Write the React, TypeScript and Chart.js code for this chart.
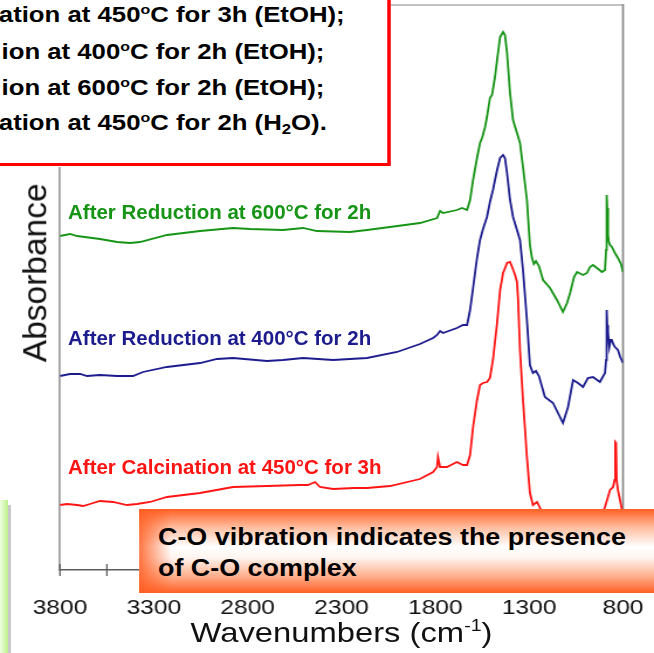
import React, { useEffect, useRef } from "react";
import { Chart, registerables } from "chart.js";

Chart.register(...registerables);

// ---------- data ----------
const xTickLabels = [3800, 3300, 2800, 2300, 1800, 1300, 800];

const seriesNames = [
  "After Calcination at 450°C for 3h",
  "After Reduction at 400°C for 2h",
  "After Reduction at 600°C for 2h",
];
const seriesColors = ["#ff1414", "#1c1c8e", "#159415"];

const greenWn = [3800, 3747, 3709, 3587, 3496, 3427, 3374, 3230, 3054, 2878, 2788, 2612, 2505, 2431, 2255, 2164, 2042, 1882, 1791, 1775, 1759, 1685, 1658, 1631, 1615, 1599, 1578, 1562, 1551, 1535, 1525, 1509, 1498, 1482, 1471, 1455, 1439, 1429, 1418, 1402, 1386, 1365, 1349, 1333, 1312, 1296, 1285, 1275, 1264, 1248, 1226, 1189, 1152, 1120, 1098, 1082, 1061, 1045, 1013, 992, 976, 960, 939, 912, 896, 890, 887, 884, 880, 875, 869, 859, 843, 827, 811, 800];
const greenAbs = [3.34, 3.36, 3.34, 3.31, 3.28, 3.27, 3.28, 3.35, 3.39, 3.42, 3.41, 3.40, 3.42, 3.39, 3.38, 3.40, 3.43, 3.47, 3.52, 3.59, 3.57, 3.60, 3.62, 3.60, 3.70, 3.90, 4.12, 4.27, 4.32, 4.43, 4.53, 4.72, 4.75, 4.93, 5.10, 5.33, 5.38, 5.35, 5.17, 4.77, 4.50, 4.37, 4.27, 4.03, 3.70, 3.25, 3.12, 3.06, 3.09, 3.04, 2.90, 2.82, 2.70, 2.58, 2.67, 2.77, 2.93, 2.98, 2.95, 2.97, 3.03, 3.05, 3.02, 2.98, 3.00, 3.20, 3.75, 3.62, 3.35, 3.28, 3.25, 3.23, 3.17, 3.12, 3.06, 2.98];

const blueWn = [3800, 3747, 3693, 3656, 3587, 3496, 3411, 3358, 3230, 3054, 2963, 2878, 2697, 2612, 2505, 2345, 2164, 2004, 1882, 1812, 1791, 1775, 1759, 1685, 1653, 1631, 1615, 1599, 1578, 1562, 1546, 1525, 1509, 1493, 1471, 1455, 1439, 1429, 1418, 1402, 1386, 1365, 1349, 1333, 1312, 1296, 1280, 1264, 1248, 1216, 1173, 1120, 1093, 1066, 1040, 1013, 987, 960, 923, 896, 890, 887, 884, 880, 873, 866, 860, 850, 843, 827, 815, 800];
const blueAbs = [1.94, 1.96, 1.96, 1.94, 1.95, 1.94, 1.94, 1.98, 2.03, 2.07, 2.11, 2.12, 2.09, 2.10, 2.12, 2.10, 2.12, 2.18, 2.26, 2.32, 2.35, 2.39, 2.37, 2.42, 2.45, 2.45, 2.60, 2.82, 3.12, 3.30, 3.41, 3.53, 3.68, 3.80, 4.00, 4.12, 4.15, 4.12, 3.97, 3.70, 3.53, 3.40, 3.30, 3.00, 2.50, 2.05, 1.97, 1.99, 1.94, 1.73, 1.67, 1.47, 1.63, 1.90, 1.87, 1.83, 1.92, 1.93, 1.88, 1.97, 2.10, 2.60, 2.45, 2.38, 2.23, 2.30, 2.30, 2.25, 2.23, 2.20, 2.13, 2.07];

const redWn = [3800, 3763, 3709, 3677, 3640, 3587, 3518, 3443, 3390, 3320, 3230, 3054, 2878, 2697, 2521, 2479, 2441, 2415, 2345, 2233, 2164, 2042, 1882, 1812, 1791, 1786, 1775, 1738, 1685, 1653, 1631, 1615, 1599, 1578, 1562, 1546, 1525, 1509, 1493, 1471, 1455, 1439, 1418, 1402, 1391, 1375, 1365, 1359, 1349, 1333, 1312, 1296, 1280, 1258, 1242, 1216, 1136, 1029, 923, 896, 869, 853, 845, 841, 837, 834, 827, 816, 805, 800];
const redAbs = [0.65, 0.66, 0.65, 0.64, 0.66, 0.69, 0.68, 0.65, 0.66, 0.68, 0.73, 0.77, 0.83, 0.84, 0.85, 0.85, 0.88, 0.83, 0.81, 0.82, 0.82, 0.84, 0.91, 0.98, 1.03, 1.13, 1.03, 1.03, 1.08, 1.05, 1.05, 1.15, 1.43, 1.70, 1.85, 1.87, 1.88, 1.92, 2.10, 2.47, 2.80, 2.97, 3.07, 3.08, 3.03, 2.95, 2.88, 2.70, 2.20, 1.70, 1.13, 0.77, 0.65, 0.68, 0.62, 0.50, 0.30, 0.35, 0.50, 0.63, 0.80, 0.83, 0.90, 1.28, 1.27, 0.90, 0.80, 0.70, 0.60, 0.55];

const legendLines = [
  { pre: "ation at 450", post: "C for 3h (EtOH);", sub: "" },
  { pre: "ion at 400", post: "C for 2h (EtOH);", sub: "" },
  { pre: "ion at 600", post: "C for 2h (EtOH);", sub: "" },
  { pre: "ation at 450", post: "C for 2h (H", sub: "2" },
];

const FONT = '"Liberation Sans", Arial, Helvetica, sans-serif';
const S = 654 / 559; // horizontal stretch of the original picture

export default function App() {
  const ref = useRef<HTMLCanvasElement | null>(null);

  useEffect(() => {
    document.body.style.margin = "0";
    const pts = (xs: number[], ys: number[]) => xs.map((x, i) => ({ x, y: ys[i] }));

    const framePlugin = {
      id: "frame",
      beforeDatasetsDraw(chart: any) {
        const { ctx, chartArea: a, scales } = chart;
        ctx.save();
        ctx.strokeStyle = "#c2c2c2";
        ctx.lineWidth = 2;
        ctx.beginPath();
        ctx.moveTo(a.left, a.top);
        ctx.lineTo(a.right, a.top);
        ctx.stroke();
        ctx.strokeStyle = "#8a8a8a";
        ctx.lineWidth = 1.7;
        ctx.beginPath();
        ctx.moveTo(a.right, a.top - 1);
        ctx.lineTo(a.right, a.bottom);
        ctx.stroke();
        const xs = scales.x;
        ctx.strokeStyle = "#5a5a5a";
        ctx.lineWidth = 1.3;
        xs.ticks.forEach((t: any) => {
          const px = xs.getPixelForValue(t.value);
          ctx.beginPath();
          ctx.moveTo(px, a.bottom - 6);
          ctx.lineTo(px, a.bottom + 6);
          ctx.stroke();
        });
        ctx.restore();
      },
    };

    const chart = new Chart(ref.current as HTMLCanvasElement, {
      type: "line",
      data: {
        datasets: [
          { label: seriesNames[0], data: pts(redWn, redAbs), borderColor: seriesColors[0] },
          { label: seriesNames[1], data: pts(blueWn, blueAbs), borderColor: seriesColors[1] },
          { label: seriesNames[2], data: pts(greenWn, greenAbs), borderColor: seriesColors[2] },
        ],
      },
      options: {
        animation: false,
        responsive: true,
        maintainAspectRatio: false,
        layout: { padding: { left: 60 / S, right: 559 - 623 / S, top: 5, bottom: 0 } },
        plugins: { legend: { display: false }, tooltip: { enabled: false } },
        elements: {
          point: { radius: 0 },
          line: { tension: 0, borderWidth: 1.8, fill: false },
        },
        scales: {
          x: {
            type: "linear",
            reverse: true,
            min: 800,
            max: 3800,
            afterFit: (s: any) => {
              s.height = 83;
            },
            grid: {
              display: true,
              drawOnChartArea: false,
              drawTicks: true,
              tickLength: 20,
              color: "rgba(0,0,0,0)",
              tickColor: "rgba(0,0,0,0)",
            },
            border: { display: true, color: "#5a5a5a", width: 1.5 },
            ticks: {
              stepSize: 250,
              autoSkip: false,
              maxRotation: 0,
              padding: 6,
              color: "#111",
              font: { family: FONT, size: 21 },
              callback: (v: any) => (xTickLabels.includes(Number(v)) ? String(v) : ""),
            },
          },
          y: {
            min: 0,
            max: 5.65,
            afterFit: (s: any) => {
              s.width = 0;
            },
            ticks: { display: false },
            grid: { display: false, drawTicks: false },
            border: { display: true, color: "#a0a0a0", width: 1.8 },
          },
        },
      } as any,
      plugins: [framePlugin],
    });
    return () => chart.destroy();
  }, []);

  const supO: React.CSSProperties = { fontSize: "0.62em", verticalAlign: "8.5px", lineHeight: 0 };
  const legendTops = [4.4, 40.9, 76.9, 112.4];
  const legendLefts = [-1, 1.3, 1.3, -1];

  const curveLabelTops = [456.6, 328.2, 201.6];

  return (
    <div
      style={{
        position: "absolute",
        left: 0,
        top: 0,
        width: 654,
        height: 653,
        overflow: "hidden",
        background: "#fff",
        fontFamily: FONT,
      }}
    >
      <div
        style={{
          position: "absolute",
          left: 0,
          top: 0,
          width: 559,
          height: 653,
          transform: `scaleX(${S})`,
          transformOrigin: "0 0",
        }}
      >
        <div style={{ position: "absolute", left: 0, top: 0, width: 559, height: 653 }}>
          <canvas ref={ref} />
        </div>

        {/* legend box */}
        <div
          style={{
            position: "absolute",
            left: -40,
            top: -30,
            width: 334 + 40,
            height: 165.7 + 30,
            border: "3.4px solid #ff0000",
            boxSizing: "border-box",
            background: "#fff",
          }}
        />
        {legendLines.map((l, i) => (
          <div
            key={i}
            style={{
              position: "absolute",
              left: legendLefts[i],
              top: legendTops[i],
              fontSize: 22,
              lineHeight: "22px",
              fontWeight: "bold",
              whiteSpace: "nowrap",
              color: "#000",
            }}
          >
            {l.pre}
            <sup style={supO}>o</sup>
            {l.post}
            {l.sub ? (
              <>
                <sub style={{ fontSize: "0.65em", verticalAlign: "-3.5px", lineHeight: 0 }}>{l.sub}</sub>
                {"O)."}
              </>
            ) : null}
          </div>
        ))}

        {/* C-O box */}
        <div
          style={{
            position: "absolute",
            left: 139 / S,
            top: 509,
            width: 460,
            height: 84,
            background:
              "linear-gradient(to right, rgba(255,95,35,0.85) 0%, rgba(255,95,35,0) 6%), linear-gradient(to bottom, rgb(255,95,35) 0%, rgb(255,190,160) 22%, #ffffff 45%, #fff4ef 58%, rgb(255,175,140) 80%, rgb(255,95,35) 100%)",
          }}
        />
        <div
          style={{
            position: "absolute",
            left: 135,
            top: 525.5,
            fontSize: 23,
            lineHeight: "23px",
            fontWeight: "bold",
            whiteSpace: "nowrap",
            color: "#000",
          }}
        >
          C-O vibration indicates the presence
        </div>
        <div
          style={{
            position: "absolute",
            left: 135,
            top: 556.5,
            fontSize: 23,
            lineHeight: "23px",
            fontWeight: "bold",
            whiteSpace: "nowrap",
            color: "#000",
          }}
        >
          of C-O complex
        </div>

        {/* x axis title */}
        <div
          style={{
            position: "absolute",
            left: 341.5 / S - 200,
            width: 400,
            top: 619.3,
            fontSize: 28,
            lineHeight: "28px",
            textAlign: "center",
            whiteSpace: "nowrap",
            color: "#111",
          }}
        >
          Wavenumbers (cm
          <sup style={{ fontSize: "0.6em", verticalAlign: "11px", lineHeight: 0 }}>-1</sup>)
        </div>
      </div>

      {/* curve labels */}
      {seriesNames.map((n, i) => (
        <div
          key={n}
          style={{
            position: "absolute",
            left: 68,
            top: curveLabelTops[i],
            fontSize: 20.5,
            lineHeight: "20.5px",
            fontWeight: "bold",
            whiteSpace: "nowrap",
            color: seriesColors[i],
          }}
        >
          {n}
        </div>
      ))}

      {/* y axis title */}
      <div
        style={{
          position: "absolute",
          left: 35 - 110,
          top: 273 - 16.75,
          width: 220,
          height: 33.5,
          fontSize: 33.5,
          lineHeight: "33.5px",
          textAlign: "center",
          color: "#111",
          transform: "rotate(-90deg)",
          whiteSpace: "nowrap",
        }}
      >
        Absorbance
      </div>

      {/* sliver of neighbouring slide element */}
      <div
        style={{
          position: "absolute",
          left: 0,
          top: 500,
          width: 8,
          height: 153,
          background: "linear-gradient(to right, #f0ffe2, #bff08a)",
        }}
      />
      <div style={{ position: "absolute", left: 8, top: 505, width: 2.5, height: 148, background: "#c9c9c9" }} />
    </div>
  );
}
